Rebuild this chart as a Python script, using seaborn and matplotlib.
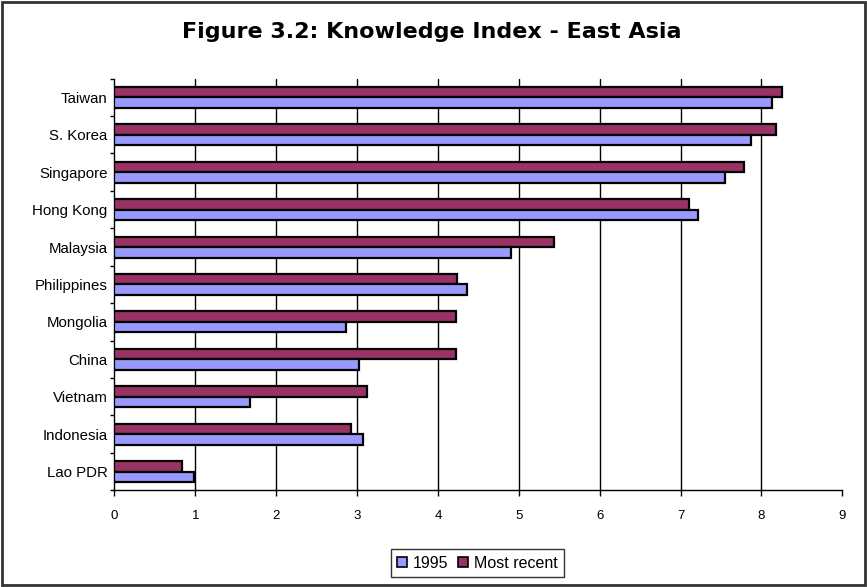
import matplotlib
matplotlib.use("Agg")
import matplotlib.pyplot as plt
from matplotlib.patches import Rectangle, Patch
import seaborn as sns
import pandas as pd

countries = ["Taiwan", "S. Korea", "Singapore", "Hong Kong", "Malaysia",
             "Philippines", "Mongolia", "China", "Vietnam", "Indonesia", "Lao PDR"]
ki_1995 = [8.13, 7.87, 7.55, 7.22, 4.90, 4.36, 2.86, 3.02, 1.68, 3.07, 0.98]
ki_recent = [8.25, 8.18, 7.78, 7.10, 5.43, 4.24, 4.22, 4.22, 3.12, 2.93, 0.84]
series = ["1995", "Most recent"]
x_ticks = list(range(0, 10))

df = pd.DataFrame({
    "country": countries * 2,
    "value": ki_1995 + ki_recent,
    "series": [series[0]] * len(countries) + [series[1]] * len(countries),
})

colors = {"1995": "#9999FF", "Most recent": "#993366"}

sns.set_theme(style="white")
plt.rcParams["font.family"] = ["Liberation Sans", "DejaVu Sans"]
plt.rcParams["text.color"] = "black"
plt.rcParams["xtick.color"] = "black"
plt.rcParams["ytick.color"] = "black"

fig = plt.figure(figsize=(8.67, 5.87), dpi=100)
ax = fig.add_axes([114.5 / 867, 1 - 490.3 / 587, (842.3 - 114.5) / 867, (490.3 - 78.6) / 587])

sns.barplot(data=df, y="country", x="value", hue="series",
            hue_order=["Most recent", "1995"], order=countries,
            palette=colors, orient="h", width=0.56, gap=0,
            edgecolor="black", linewidth=1.6, saturation=1,
            legend=False, ax=ax, zorder=3)

ax.set_xlim(0, 9)
ax.set_ylim(len(countries) - 0.5, -0.5)
ax.set_xticks(x_ticks)
ax.set_xticklabels([str(t) for t in x_ticks], fontsize=9.5, color="black")
ax.set_yticks(range(len(countries)))
ax.set_yticklabels(countries, fontsize=10.8, color="black")
ax.set_xlabel("")
ax.set_ylabel("")

# vertical gridlines at integer values (none at the right edge)
for t in x_ticks[1:-1]:
    ax.axvline(t, color="black", linewidth=1.0, zorder=1)

for side in ["top", "right"]:
    ax.spines[side].set_visible(False)
for side in ["left", "bottom"]:
    ax.spines[side].set_visible(True)
    ax.spines[side].set_color("black")
    ax.spines[side].set_linewidth(1.0)

ax.tick_params(axis="x", which="major", bottom=True, direction="out", length=4,
               width=1.0, color="black", pad=10)
ax.tick_params(axis="y", which="major", left=False, length=0, pad=5)
# small tick marks between categories on the left axis
ax.set_yticks([i - 0.5 for i in range(len(countries) + 1)], minor=True)
ax.tick_params(axis="y", which="minor", left=True, direction="out", length=3,
               width=1.0, color="black")

fig.text(432 / 867, 1 - 32 / 587, "Figure 3.2: Knowledge Index - East Asia",
         ha="center", va="center", fontsize=16, fontweight="bold",
         family=["DejaVu Sans"], color="black")

handles = [Patch(facecolor=colors[s], edgecolor="black", linewidth=1.2) for s in series]
leg = fig.legend(handles, series, loc="center", bbox_to_anchor=(477.5 / 867, 1 - 563 / 587),
                 ncol=2, frameon=True, fancybox=False, fontsize=11.5,
                 handlelength=0.6, handleheight=0.6, handletextpad=0.4,
                 columnspacing=0.6, borderpad=0.4, edgecolor="black")
leg.get_frame().set_linewidth(1.0)
for t in leg.get_texts():
    t.set_color("black")

fig.patches.append(Rectangle((0.002, 0.003), 0.996, 0.994, transform=fig.transFigure,
                             fill=False, edgecolor="#333333", linewidth=2.0))

fig.savefig("out.png", dpi=100, facecolor="white")
